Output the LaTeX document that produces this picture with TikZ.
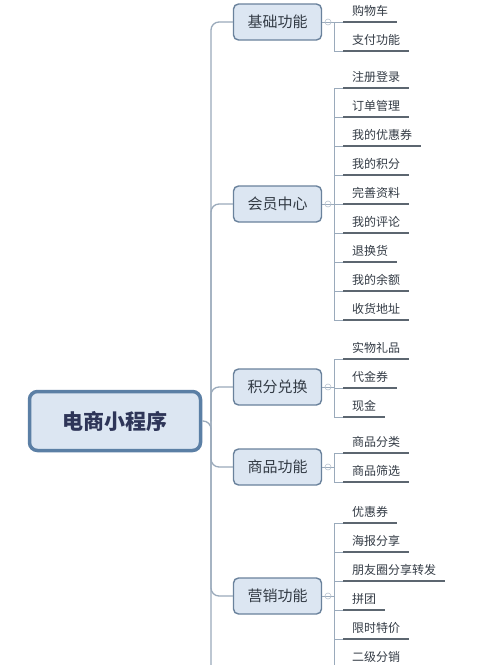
\documentclass[tikz,border=0pt]{standalone}
\usepackage{fontspec}
\setmainfont{Noto Sans CJK SC}
\definecolor{boxfill}{HTML}{DCE6F2}
\definecolor{rootedge}{HTML}{5B7FA5}
\definecolor{catedge}{HTML}{6A829C}
\definecolor{trunkline}{HTML}{9AAABB}
\definecolor{underline}{HTML}{5C6670}
\definecolor{inktext}{HTML}{333B45}
\begin{document}
\begin{tikzpicture}[x=1pt,y=-1pt,
    rootbox/.style={draw=rootedge, fill=boxfill, line width=3.5pt, rounded corners=8pt,
        minimum width=171pt, minimum height=59pt, text=inktext!90!blue,
        font=\fontsize{21}{21}\selectfont\bfseries},
    catbox/.style={draw=catedge, fill=boxfill, line width=1.4pt, rounded corners=5pt,
        minimum width=88pt, minimum height=36pt, text=inktext,
        font=\fontsize{15}{15}\selectfont},
    leaf/.style={anchor=south west, inner xsep=9pt, inner ysep=5pt, text=inktext,
        font=\fontsize{12}{12}\selectfont},
    trunk/.style={draw=trunkline, line width=1.3pt, rounded corners=8pt},
    twig/.style={draw=trunkline, line width=0.9pt},
    uline/.style={draw=underline, line width=2.4pt},
    fold/.style={circle, draw=trunkline!70, line width=0.6pt, minimum size=6pt, inner sep=0pt}]
    \useasboundingbox[fill=white] (0,0) rectangle (500,665);

    % root and main trunk
    \node[rootbox] (root) at (115,421) {电商小程序};
    \coordinate (hub) at (211,421);
    \coordinate (trunkend) at (211,670);
    \draw[trunk] (root.east) -- (hub) -- (trunkend);

    % categories
    \node[catbox] (basic) at (277.5,22) {基础功能};
    \node[catbox] (member) at (277.5,204) {会员中心};
    \node[catbox] (points) at (277.5,387) {积分兑换};
    \node[catbox] (goods) at (277.5,467) {商品功能};
    \node[catbox] (market) at (277.5,596) {营销功能};
    \foreach \k in {basic,member,points,goods,market}
        \draw[trunk] (hub) |- (\k.west);

    % leaves: basic
    \foreach \txt [count=\i] in {购物车,支付功能} {
        \node[leaf] (b\i) at (343,{-7+29*\i}) {\txt};
        \draw[twig] ([xshift=-9pt]b\i.south west) -- (b\i.south west);
        \draw[uline] (b\i.south west) -- (b\i.south east);
    }
    \coordinate (jb) at (334,22);
    \draw[twig] (basic.east) -- (jb);
    \draw[twig] ([xshift=-9pt]b1.south west) -- ([xshift=-9pt]b2.south west);
    \node[fold] at (328,22) {};

    % leaves: member
    \foreach \txt [count=\i] in {注册登录,订单管理,我的优惠券,我的积分,完善资料,我的评论,退换货,我的余额,收货地址} {
        \node[leaf] (m\i) at (343,{59+29*\i}) {\txt};
        \draw[twig] ([xshift=-9pt]m\i.south west) -- (m\i.south west);
        \draw[uline] (m\i.south west) -- (m\i.south east);
    }
    \coordinate (jm) at (334,204);
    \draw[twig] (member.east) -- (jm);
    \draw[twig] ([xshift=-9pt]m1.south west) -- ([xshift=-9pt]m9.south west);
    \node[fold] at (328,204) {};

    % leaves: points
    \foreach \txt [count=\i] in {实物礼品,代金券,现金} {
        \node[leaf] (p\i) at (343,{330+29*\i}) {\txt};
        \draw[twig] ([xshift=-9pt]p\i.south west) -- (p\i.south west);
        \draw[uline] (p\i.south west) -- (p\i.south east);
    }
    \coordinate (jp) at (334,387);
    \draw[twig] (points.east) -- (jp);
    \draw[twig] ([xshift=-9pt]p1.south west) -- ([xshift=-9pt]p3.south west);
    \node[fold] at (328,387) {};

    % leaves: goods
    \foreach \txt [count=\i] in {商品分类,商品筛选} {
        \node[leaf] (g\i) at (343,{424+29*\i}) {\txt};
        \draw[twig] ([xshift=-9pt]g\i.south west) -- (g\i.south west);
        \draw[uline] (g\i.south west) -- (g\i.south east);
    }
    \coordinate (jg) at (334,467);
    \draw[twig] (goods.east) -- (jg);
    \draw[twig] ([xshift=-9pt]g1.south west) -- ([xshift=-9pt]g2.south west);
    \node[fold] at (328,467) {};

    % leaves: market (runs off the bottom)
    \foreach \txt [count=\i] in {优惠券,海报分享,朋友圈分享转发,拼团,限时特价,二级分销} {
        \node[leaf] (s\i) at (343,{494+29*\i}) {\txt};
        \draw[twig] ([xshift=-9pt]s\i.south west) -- (s\i.south west);
        \draw[uline] (s\i.south west) -- (s\i.south east);
    }
    \coordinate (js) at (334,596);
    \draw[twig] (market.east) -- (js);
    \draw[twig] ([xshift=-9pt]s1.south west) -- ([xshift=-9pt]s6.south west);
    \node[fold] at (328,596) {};
\end{tikzpicture}
\end{document}
